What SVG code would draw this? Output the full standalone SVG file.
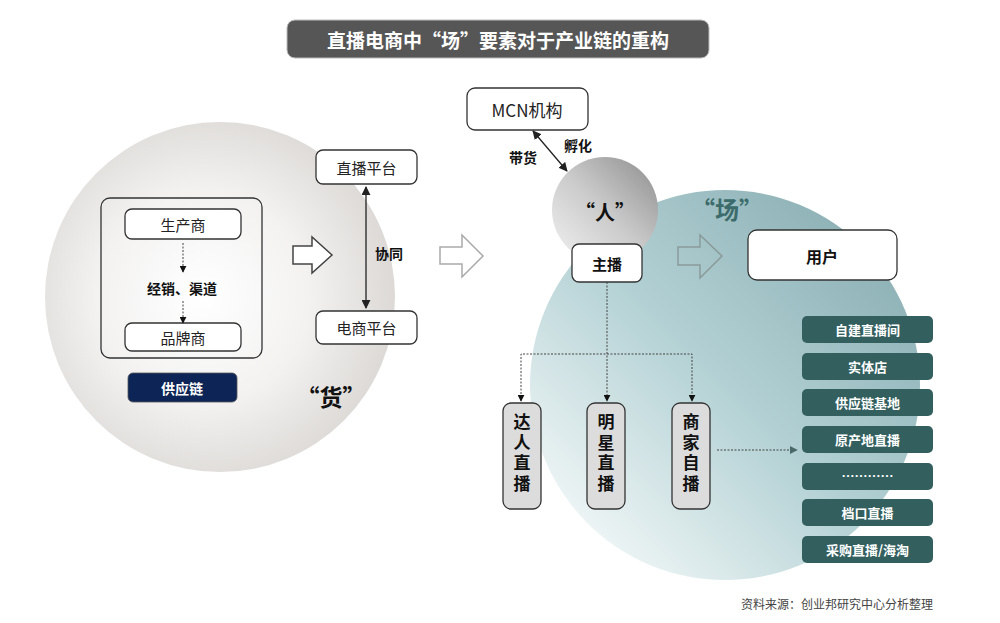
<svg xmlns="http://www.w3.org/2000/svg" width="1000" height="623" viewBox="0 0 1000 623">
<defs>
<radialGradient id="gHuo" cx="0.45" cy="0.5" r="0.55">
<stop offset="0" stop-color="#ffffff"/>
<stop offset="0.55" stop-color="#f3f2f1"/>
<stop offset="1" stop-color="#dcd9d6"/>
</radialGradient>
<linearGradient id="gRen" x1="1" y1="0" x2="0" y2="1">
<stop offset="0" stop-color="#8c8c8c"/>
<stop offset="0.5" stop-color="#cacaca"/>
<stop offset="1" stop-color="#f2f2f2"/>
</linearGradient>
<linearGradient id="gChang" x1="0.9" y1="0.1" x2="0.1" y2="0.9">
<stop offset="0" stop-color="#8bafb4"/>
<stop offset="0.5" stop-color="#b3d1d4"/>
<stop offset="1" stop-color="#f3f8f8"/>
</linearGradient>
<marker id="ah" viewBox="0 0 10 10" refX="9" refY="5" markerWidth="7" markerHeight="7" markerUnits="userSpaceOnUse" orient="auto-start-reverse">
<path d="M0,0 L10,5 L0,10 z" fill="#111"/>
</marker>
<marker id="ahs" viewBox="0 0 10 10" refX="9" refY="5" markerWidth="9" markerHeight="9" markerUnits="userSpaceOnUse" orient="auto-start-reverse">
<path d="M0,0 L10,5 L0,10 z" fill="#222"/>
</marker>
<marker id="ahg" viewBox="0 0 10 10" refX="9" refY="5" markerWidth="8" markerHeight="8" markerUnits="userSpaceOnUse" orient="auto">
<path d="M0,0 L10,5 L0,10 z" fill="#4a6a6a"/>
</marker>
</defs>
<style>
text{font-family:"Noto Sans CJK SC","Noto Sans",sans-serif;text-anchor:middle;dominant-baseline:central;}
.box{fill:#ffffff;stroke:#333;stroke-width:1.3;}
.t{font-size:15px;fill:#222;}
.b{font-size:14px;font-weight:bold;fill:#111;}
.vbox{fill:#dcdcdc;stroke:#333;stroke-width:1.3;}
.vt{font-size:17px;font-weight:bold;fill:#111;writing-mode:vertical-rl;letter-spacing:3.5px;}
.lbox{fill:#335f5f;}
.lt{font-size:13px;font-weight:bold;fill:#ffffff;}
.dot{fill:none;stroke:#444;stroke-width:1;stroke-dasharray:2,1.5;}
.sol{fill:none;stroke:#222;stroke-width:1.3;}
</style>
<rect width="1000" height="623" fill="#ffffff"/>

<g id="title">
<rect x="287" y="20" width="422" height="38" rx="8" fill="#565656" stroke="#bbb" stroke-width="1"/>
<text x="498" y="39.5" style="font-size:19px;font-weight:bold;fill:#fff">直播电商中“场”要素对于产业链的重构</text>
</g>

<g id="huo-circle">
<circle cx="220" cy="297" r="175" fill="url(#gHuo)"/>
<text x="331" y="396" style="font-size:23px;font-weight:bold;fill:#111">“货”</text>
</g>

<g id="chang-circle">
<circle cx="725" cy="385" r="195" fill="url(#gChang)"/>
<text x="727" y="208" style="font-size:24px;font-weight:bold;fill:#3c6b6b">“场”</text>
</g>

<g id="supply-frame">
<rect x="101" y="198" width="161" height="160" rx="9" fill="none" stroke="#333" stroke-width="1.3"/>
</g>
<g id="n-producer">
<rect class="box" x="125" y="209" width="116" height="30" rx="7"/>
<text class="t" x="183" y="224">生产商</text>
</g>
<g id="n-channel">
<text class="b" x="182" y="288">经销、渠道</text>
</g>
<g id="n-brand">
<rect class="box" x="125" y="323" width="116" height="28" rx="7"/>
<text class="t" x="183" y="337">品牌商</text>
</g>
<g id="n-supply">
<rect x="128" y="373" width="109" height="29" rx="5" fill="#0d2556" stroke="#555" stroke-width="0.8"/>
<text x="182" y="387.5" style="font-size:14px;font-weight:bold;fill:#fff">供应链</text>
</g>

<g id="n-live-platform">
<rect class="box" x="316" y="150" width="101" height="34" rx="7"/>
<text class="t" x="366.5" y="167">直播平台</text>
</g>
<g id="n-ec-platform">
<rect class="box" x="316" y="311" width="101" height="33" rx="7"/>
<text class="t" x="366.5" y="327.5">电商平台</text>
</g>
<g id="n-xietong">
<text class="b" x="389" y="253">协同</text>
</g>

<g id="n-mcn">
<rect class="box" x="467" y="88" width="121" height="42" rx="8"/>
<text x="527" y="109" style="font-size:17px;fill:#222">MCN机构</text>
</g>
<g id="n-fuhua"><text class="b" x="578" y="145">孵化</text></g>
<g id="n-daihuo"><text class="b" x="523" y="157">带货</text></g>

<g id="n-ren">
<circle cx="605" cy="210" r="53" fill="url(#gRen)"/>
<text x="605" y="211" style="font-size:20px;font-weight:bold;fill:#111">“人”</text>
</g>
<g id="n-zhubo">
<rect class="box" x="572" y="244" width="70" height="38" rx="7"/>
<text x="607" y="263" style="font-size:15px;font-weight:bold;fill:#111">主播</text>
</g>

<g id="n-user">
<rect class="box" x="748" y="230" width="149" height="50" rx="9"/>
<text x="822" y="255.5" style="font-size:16px;font-weight:bold;fill:#111">用户</text>
</g>

<g id="n-daren">
<rect class="vbox" x="503" y="403" width="38" height="106" rx="8"/>
<text class="vt" x="522" y="454.5">达人直播</text>
</g>
<g id="n-mingxing">
<rect class="vbox" x="587" y="403" width="38" height="106" rx="8"/>
<text class="vt" x="606" y="454.5">明星直播</text>
</g>
<g id="n-shangjia">
<rect class="vbox" x="672" y="403" width="38" height="106" rx="8"/>
<text class="vt" x="691" y="454.5">商家自播</text>
</g>

<g id="n-list">
<rect class="lbox" x="802" y="316" width="131" height="27" rx="5"/><text class="lt" x="867.5" y="329.5">自建直播间</text>
<rect class="lbox" x="802" y="353" width="131" height="27" rx="5"/><text class="lt" x="867.5" y="366.5">实体店</text>
<rect class="lbox" x="802" y="389" width="131" height="27" rx="5"/><text class="lt" x="867.5" y="402.5">供应链基地</text>
<rect class="lbox" x="802" y="426" width="131" height="27" rx="5"/><text class="lt" x="867.5" y="439.5">原产地直播</text>
<rect class="lbox" x="802" y="463" width="131" height="27" rx="5"/><text class="lt" x="867.5" y="475">…………</text>
<rect class="lbox" x="802" y="499" width="131" height="27" rx="5"/><text class="lt" x="867.5" y="512.5">档口直播</text>
<rect class="lbox" x="802" y="536" width="131" height="27" rx="5"/><text class="lt" x="867.5" y="549.5">采购直播/海淘</text>
</g>

<g id="connectors">
<path d="M293,246 L312,246 L312,237 L332,255 L312,273 L312,264 L293,264 Z" fill="#fff" stroke="#444" stroke-width="1.5"/>
<path d="M440,247 L462,247 L462,235 L483,256 L462,277 L462,264 L440,264 Z" fill="#fff" stroke="#aaa" stroke-width="1.5"/>
<path d="M678,247 L700,247 L700,235 L722,256 L700,278 L700,265 L678,265 Z" fill="none" stroke="#8a9a9a" stroke-width="1.5"/>
<line class="dot" x1="183" y1="243" x2="183" y2="272" marker-end="url(#ah)"/>
<line class="dot" x1="183" y1="301" x2="183" y2="323" marker-end="url(#ah)"/>
<line class="sol" x1="366" y1="187" x2="366" y2="308" marker-start="url(#ahs)" marker-end="url(#ahs)"/>
<line class="sol" x1="533" y1="131" x2="567" y2="171" marker-start="url(#ahs)" marker-end="url(#ahs)"/>
<line class="dot" x1="607" y1="282" x2="607" y2="401" marker-end="url(#ah)"/>
<polyline class="dot" points="521,401 521,354 692,354 692,401" marker-start="url(#ah)" marker-end="url(#ah)"/>
<line class="dot" x1="717" y1="450" x2="797" y2="450" stroke="#4a6a6a" marker-end="url(#ahg)"/>
</g>

<g id="source">
<text x="933" y="603" style="font-size:12px;fill:#444;text-anchor:end">资料来源：创业邦研究中心分析整理</text>
</g>
</svg>
